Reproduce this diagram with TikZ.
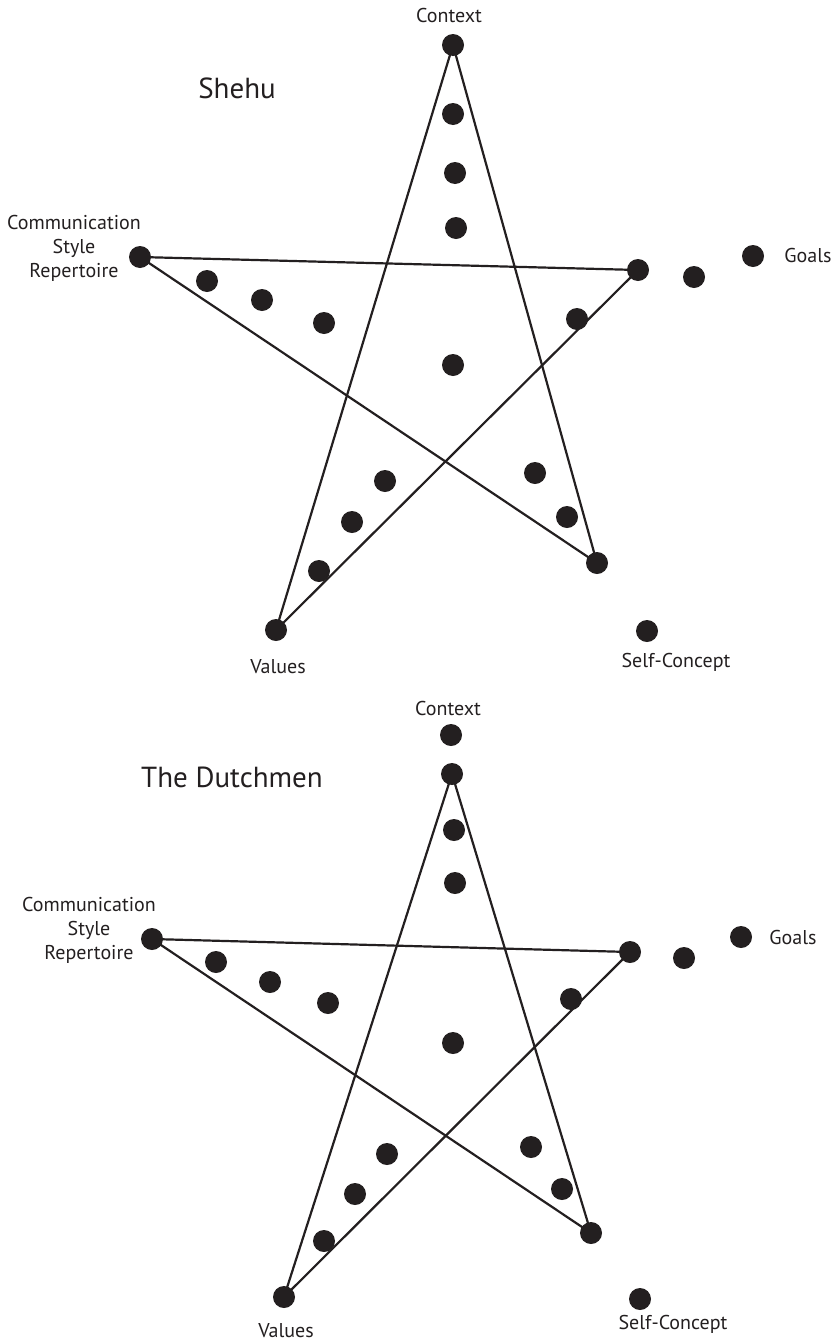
\documentclass[tikz,border=0pt]{standalone}
\usepackage{fontspec}
\setmainfont{PT Sans}
\definecolor{ink}{HTML}{231F20}
\begin{document}
\begin{tikzpicture}[x=1pt,y=-1pt,
  dot/.style={circle,fill=ink,inner sep=0pt,minimum size=22pt},
  edge/.style={draw=ink,line width=2.2pt},
  lbl/.style={text=ink,font=\fontsize{20}{24}\selectfont,inner sep=0pt,align=center},
  ttl/.style={text=ink,font=\fontsize{29}{34}\selectfont,inner sep=0pt}]
\useasboundingbox (0,0) rectangle (836,1344);
% ---------- Shehu ----------
\node[ttl] (t1) at (237,88) {Shehu};
\node[lbl] (c1l) at (449,15) {Context};
\node[lbl] (s1l) at (74,248) {Communication\\Style\\Repertoire};
\node[lbl] (g1l) at (808,255) {Goals};
\node[lbl] (v1l) at (278,667) {Values};
\node[lbl] (sc1l) at (676,662) {Self-Concept};
\node[dot] (A1) at (453,45) {};
\node[dot] (B1) at (140,257) {};
\node[dot] (C1) at (638,270) {};
\node[dot] (D1) at (276,630) {};
\node[dot] (E1) at (597,563) {};
\draw[edge] (A1.center) -- (D1.center);
\draw[edge] (A1.center) -- (E1.center);
\draw[edge] (B1.center) -- (C1.center);
\draw[edge] (B1.center) -- (E1.center);
\draw[edge] (D1.center) -- (C1.center);
\node[dot] (a11) at (453,114) {};
\node[dot] (a12) at (455,173) {};
\node[dot] (a13) at (456,228) {};
\node[dot] (b11) at (207,281) {};
\node[dot] (b12) at (262,300) {};
\node[dot] (b13) at (324,323) {};
\node[dot] (g11) at (694,277) {};
\node[dot] (g12) at (753,256) {};
\node[dot] (c11) at (577,319) {};
\node[dot] (m1) at (453,365) {};
\node[dot] (v11) at (385,481) {};
\node[dot] (v12) at (352,522) {};
\node[dot] (v13) at (319,571) {};
\node[dot] (e11) at (535,473) {};
\node[dot] (e12) at (567,517) {};
\node[dot] (sc1) at (647,631) {};
% ---------- The Dutchmen ----------
\node[ttl] (t2) at (232,777) {The Dutchmen};
\node[lbl] (c2l) at (448,708) {Context};
\node[lbl] (s2l) at (89,930) {Communication\\Style\\Repertoire};
\node[lbl] (g2l) at (793,937) {Goals};
\node[lbl] (v2l) at (286,1331) {Values};
\node[lbl] (sc2l) at (673,1324) {Self-Concept};
\node[dot] (ctx2) at (451,735) {};
\node[dot] (A2) at (452,774) {};
\node[dot] (B2) at (152,939) {};
\node[dot] (C2) at (630,952) {};
\node[dot] (D2) at (284,1297) {};
\node[dot] (E2) at (591,1233) {};
\draw[edge] (A2.center) -- (D2.center);
\draw[edge] (A2.center) -- (E2.center);
\draw[edge] (B2.center) -- (C2.center);
\draw[edge] (B2.center) -- (E2.center);
\draw[edge] (D2.center) -- (C2.center);
\node[dot] (a21) at (454,830) {};
\node[dot] (a22) at (455,883) {};
\node[dot] (b21) at (216,962) {};
\node[dot] (b22) at (270,982) {};
\node[dot] (b23) at (328,1003) {};
\node[dot] (g21) at (684,958) {};
\node[dot] (g22) at (741,937) {};
\node[dot] (c21) at (571,999) {};
\node[dot] (m2) at (453,1043) {};
\node[dot] (v21) at (387,1154) {};
\node[dot] (v22) at (355,1194) {};
\node[dot] (v23) at (324,1241) {};
\node[dot] (e21) at (531,1147) {};
\node[dot] (e22) at (562,1189) {};
\node[dot] (sc2) at (640,1299) {};
\end{tikzpicture}
\end{document}
